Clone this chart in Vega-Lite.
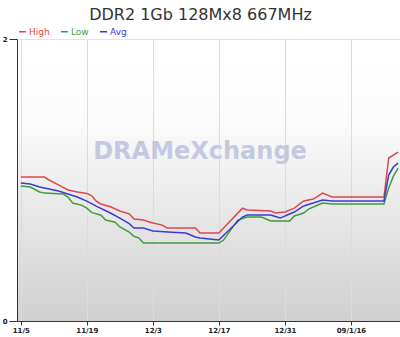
{
  "$schema": "https://vega.github.io/schema/vega-lite/v6.json",
  "width": 383,
  "height": 282,
  "autosize": {"type": "none"},
  "padding": {"left": 17, "top": 39, "right": 0, "bottom": 16},
  "background": "white",
  "title": {"text": "DDR2 1Gb 128Mx8 667MHz", "font": "DejaVu Sans", "fontSize": 16, "fontWeight": "normal", "color": "#333333", "anchor": "middle", "offset": 4, "dx": -8},
  "view": {"fill": {"gradient": "linear", "x1": 0, "y1": 0, "x2": 0, "y2": 1, "stops": [{"offset": 0, "color": "#ffffff"}, {"offset": 0.3, "color": "#fbfbfb"}, {"offset": 1, "color": "#d0d0d0"}]}, "stroke": null},
  "layer": [
    {
      "data": {"values": [{"label": "DRAMeXchange"}]},
      "mark": {"type": "text", "font": "DejaVu Sans", "fontSize": 24, "fontWeight": "bold", "color": "#bfc5de", "opacity": 0.9},
      "encoding": {
        "x": {"datum": 38, "type": "quantitative"},
        "y": {"datum": 1.2, "type": "quantitative"},
        "text": {"field": "label"}
      }
    },
    {
      "data": {"values": [
        {"d": 0, "s": "High", "v": 1.021}, {"d": 5, "s": "High", "v": 1.021}, {"d": 6, "s": "High", "v": 1.0}, {"d": 8, "s": "High", "v": 0.965}, {"d": 10, "s": "High", "v": 0.929}, {"d": 12, "s": "High", "v": 0.915}, {"d": 14, "s": "High", "v": 0.905}, {"d": 15, "s": "High", "v": 0.89}, {"d": 16, "s": "High", "v": 0.85}, {"d": 17, "s": "High", "v": 0.83}, {"d": 19, "s": "High", "v": 0.81}, {"d": 21, "s": "High", "v": 0.78}, {"d": 23, "s": "High", "v": 0.76}, {"d": 24, "s": "High", "v": 0.723}, {"d": 26, "s": "High", "v": 0.716}, {"d": 28, "s": "High", "v": 0.695}, {"d": 30, "s": "High", "v": 0.68}, {"d": 31, "s": "High", "v": 0.66}, {"d": 37, "s": "High", "v": 0.66}, {"d": 38, "s": "High", "v": 0.624}, {"d": 42, "s": "High", "v": 0.624}, {"d": 47, "s": "High", "v": 0.8}, {"d": 48, "s": "High", "v": 0.787}, {"d": 53, "s": "High", "v": 0.78}, {"d": 54, "s": "High", "v": 0.766}, {"d": 56, "s": "High", "v": 0.773}, {"d": 58, "s": "High", "v": 0.8}, {"d": 60, "s": "High", "v": 0.851}, {"d": 62, "s": "High", "v": 0.865}, {"d": 63, "s": "High", "v": 0.886}, {"d": 64, "s": "High", "v": 0.907}, {"d": 66, "s": "High", "v": 0.879}, {"d": 77, "s": "High", "v": 0.879}, {"d": 78, "s": "High", "v": 1.156}, {"d": 80, "s": "High", "v": 1.197},
        {"d": 0, "s": "Low", "v": 0.957}, {"d": 2, "s": "Low", "v": 0.95}, {"d": 4, "s": "Low", "v": 0.915}, {"d": 5, "s": "Low", "v": 0.907}, {"d": 9, "s": "Low", "v": 0.9}, {"d": 10, "s": "Low", "v": 0.879}, {"d": 11, "s": "Low", "v": 0.837}, {"d": 13, "s": "Low", "v": 0.82}, {"d": 14, "s": "Low", "v": 0.8}, {"d": 15, "s": "Low", "v": 0.77}, {"d": 17, "s": "Low", "v": 0.75}, {"d": 18, "s": "Low", "v": 0.716}, {"d": 20, "s": "Low", "v": 0.7}, {"d": 21, "s": "Low", "v": 0.667}, {"d": 23, "s": "Low", "v": 0.63}, {"d": 24, "s": "Low", "v": 0.6}, {"d": 25, "s": "Low", "v": 0.59}, {"d": 26, "s": "Low", "v": 0.553}, {"d": 42, "s": "Low", "v": 0.553}, {"d": 43, "s": "Low", "v": 0.574}, {"d": 46, "s": "Low", "v": 0.716}, {"d": 48, "s": "Low", "v": 0.737}, {"d": 51, "s": "Low", "v": 0.737}, {"d": 53, "s": "Low", "v": 0.709}, {"d": 57, "s": "Low", "v": 0.709}, {"d": 58, "s": "Low", "v": 0.745}, {"d": 60, "s": "Low", "v": 0.766}, {"d": 61, "s": "Low", "v": 0.794}, {"d": 63, "s": "Low", "v": 0.823}, {"d": 64, "s": "Low", "v": 0.837}, {"d": 66, "s": "Low", "v": 0.83}, {"d": 77, "s": "Low", "v": 0.83}, {"d": 78, "s": "Low", "v": 0.943}, {"d": 79, "s": "Low", "v": 1.027}, {"d": 80, "s": "Low", "v": 1.085},
        {"d": 0, "s": "Avg", "v": 0.979}, {"d": 2, "s": "Avg", "v": 0.972}, {"d": 4, "s": "Avg", "v": 0.95}, {"d": 8, "s": "Avg", "v": 0.922}, {"d": 12, "s": "Avg", "v": 0.879}, {"d": 14, "s": "Avg", "v": 0.85}, {"d": 16, "s": "Avg", "v": 0.815}, {"d": 19, "s": "Avg", "v": 0.766}, {"d": 21, "s": "Avg", "v": 0.73}, {"d": 23, "s": "Avg", "v": 0.69}, {"d": 24, "s": "Avg", "v": 0.66}, {"d": 26, "s": "Avg", "v": 0.66}, {"d": 28, "s": "Avg", "v": 0.638}, {"d": 32, "s": "Avg", "v": 0.63}, {"d": 35, "s": "Avg", "v": 0.624}, {"d": 37, "s": "Avg", "v": 0.596}, {"d": 38, "s": "Avg", "v": 0.589}, {"d": 42, "s": "Avg", "v": 0.574}, {"d": 47, "s": "Avg", "v": 0.737}, {"d": 48, "s": "Avg", "v": 0.752}, {"d": 53, "s": "Avg", "v": 0.752}, {"d": 55, "s": "Avg", "v": 0.73}, {"d": 57, "s": "Avg", "v": 0.759}, {"d": 58, "s": "Avg", "v": 0.773}, {"d": 60, "s": "Avg", "v": 0.816}, {"d": 62, "s": "Avg", "v": 0.837}, {"d": 64, "s": "Avg", "v": 0.858}, {"d": 66, "s": "Avg", "v": 0.851}, {"d": 77, "s": "Avg", "v": 0.851}, {"d": 78, "s": "Avg", "v": 1.035}, {"d": 79, "s": "Avg", "v": 1.092}, {"d": 80, "s": "Avg", "v": 1.12}
      ]},
      "mark": {"type": "line", "strokeWidth": 1.5, "clip": true},
      "encoding": {
        "x": {
          "field": "d", "type": "quantitative",
          "scale": {"domain": [-0.8, 80.4], "nice": false, "zero": false},
          "axis": {
            "title": null, "values": [0, 14, 28, 42, 56, 70],
            "labelExpr": "datum.value == 0 ? '11/5' : datum.value == 14 ? '11/19' : datum.value == 28 ? '12/3' : datum.value == 42 ? '12/17' : datum.value == 56 ? '12/31' : '09/1/16'",
            "labelFont": "DejaVu Sans", "labelFontSize": 7, "labelFontWeight": "bold", "labelColor": "#222222",
            "tickSize": 4, "tickColor": "#333333", "domainColor": "#333333", "labelPadding": 1,
            "grid": true, "gridColor": "#dcdcdc", "labelFlush": false, "labelOverlap": false
          }
        },
        "y": {
          "field": "v", "type": "quantitative",
          "scale": {"domain": [0, 2], "nice": false},
          "axis": {
            "title": null, "values": [0, 1, 2], "format": "d",
            "labelFont": "DejaVu Sans", "labelFontSize": 7, "labelFontWeight": "bold", "labelColor": "#222222",
            "tickSize": 8, "tickColor": "#333333", "domainColor": "#333333", "labelPadding": 2,
            "grid": true, "gridColor": "#e4e4e4", "labelFlush": false
          }
        },
        "color": {
          "field": "s", "type": "nominal",
          "scale": {"domain": ["High", "Low", "Avg"], "range": ["#e0464e", "#3d9e3d", "#3a3ad6"]},
          "legend": {
            "orient": "none", "legendX": 1, "legendY": -12, "direction": "horizontal", "title": null,
            "symbolType": "stroke", "symbolSize": 49, "symbolStrokeWidth": 1.5, "padding": 0,
            "labelFont": "DejaVu Sans", "labelFontSize": 9, "labelOffset": 2, "columnPadding": 8,
            "encode": {"labels": {"update": {"fill": {"scale": "color", "field": "value"}}}}
          }
        }
      }
    }
  ]
}
